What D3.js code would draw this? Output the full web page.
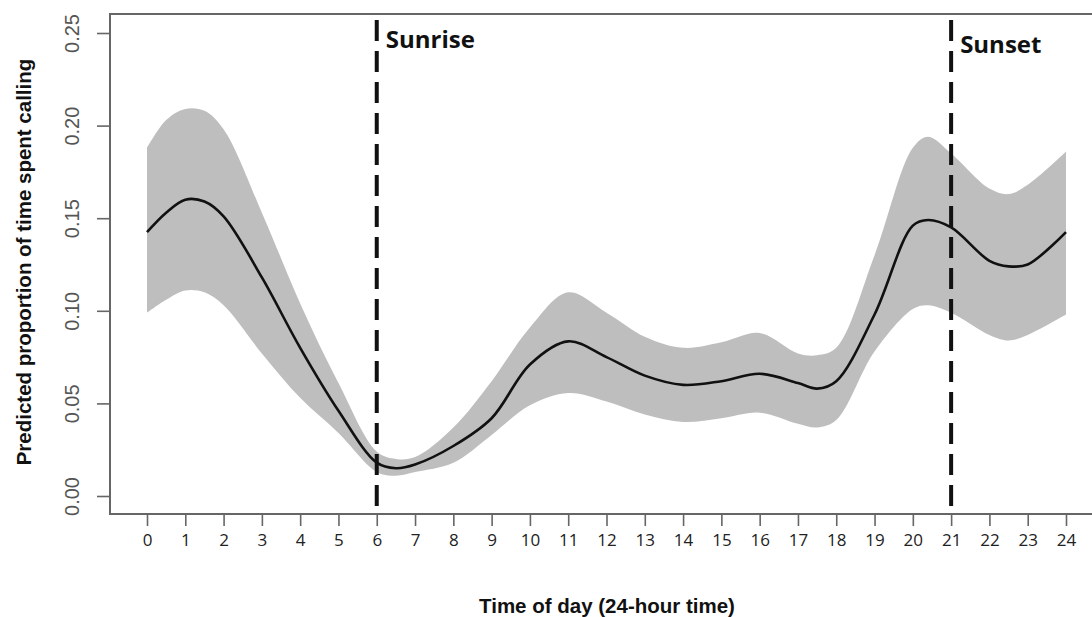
<!DOCTYPE html>
<html>
<head>
<meta charset="utf-8">
<script src="https://cdn.jsdelivr.net/npm/d3@7"></script>
<style>
	body { margin: 0; background: #fff; }
	#CallingChart { width: 1092px; height: 617px; overflow: hidden; }
</style>
</head>
<body>
<div id="CallingChart"></div>
<script>

// hours of the day where the curve was read
var hours = [0, 0.5, 1, 1.5, 2, 3, 4, 5, 6, 6.5, 7, 8, 9, 10, 11, 12, 13, 14, 15, 16, 17, 17.5, 18, 19, 20, 20.4, 21, 22, 22.5, 23, 24];
var fitted = [.1425, .153, .160, .159, .151, .118, .080, .046, .018, .015, .017, .027, .042, .071, .0835, .075, .065, .060, .062, .066, .061, .058, .062, .098, .146, .149, .145, .127, .124, .125, .1425];
var upper = [.188, .203, .209, .208, .198, .153, .104, .061, .024, .020, .021, .037, .062, .091, .110, .099, .086, .080, .083, .088, .077, .076, .080, .130, .188, .194, .185, .166, .163, .168, .186];
var lower = [.099, .106, .111, .110, .103, .077, .053, .034, .013, .011, .013, .018, .033, .049, .0556, .051, .044, .040, .042, .045, .039, .037, .041, .078, .101, .103, .099, .087, .084, .087, .098];

var xTicks = d3.range(0, 25);
var yTicks = [0, 0.05, 0.10, 0.15, 0.20, 0.25];
var markers = [{hour: 6, label: "Sunrise"}, {hour: 21, label: "Sunset"}];

var W = 1092, H = 617;
var box = {left: 110, top: 14, right: 1096, bottom: 514};

var svg = d3.select("#CallingChart")
	.append("svg")
	.attr("width", W)
	.attr("height", H);

var x = d3.scaleLinear().domain([0, 24]).range([147, 1066]);
var y = d3.scaleLinear().domain([0, 0.25]).range([496, 33]);

var rows = hours.map(function(h, i){
	return {h: h, fit: fitted[i], up: upper[i], lo: lower[i]};
});

// confidence band
var band = d3.area()
	.x(function(d){ return x(d.h); })
	.y0(function(d){ return y(d.lo); })
	.y1(function(d){ return y(d.up); })
	.curve(d3.curveCatmullRom);

svg.append("path")
	.datum(rows)
	.attr("d", band)
	.attr("fill", "#bebebe");

var line = d3.line()
	.x(function(d){ return x(d.h); })
	.y(function(d){ return y(d.fit); })
	.curve(d3.curveCatmullRom);

svg.append("path")
	.datum(rows)
	.attr("d", line)
	.attr("fill", "none")
	.attr("stroke", "#111")
	.attr("stroke-width", 2.6);

// frame
svg.append("rect")
	.attr("x", box.left)
	.attr("y", box.top)
	.attr("width", box.right - box.left)
	.attr("height", box.bottom - box.top)
	.attr("fill", "none")
	.attr("stroke", "#666")
	.attr("stroke-width", 2);

// y axis
var yAxis = d3.axisLeft(y)
	.tickValues(yTicks)
	.tickSize(13)
	.tickFormat(d3.format(".2f"));

var gy = svg.append("g")
	.attr("transform", "translate(" + box.left + ",0)")
	.call(yAxis);
gy.select(".domain").remove();
gy.selectAll(".tick line").attr("stroke", "#666").attr("stroke-width", 1.6);
gy.selectAll(".tick text")
	.attr("transform", "rotate(-90)")
	.attr("x", 0)
	.attr("y", -31)
	.attr("dy", 0)
	.attr("text-anchor", "middle")
	.style("font-family", "'Liberation Sans', Arial, sans-serif")
	.style("font-size", "20px")
	.attr("fill", "#555");

// x axis
var xAxis = d3.axisBottom(x)
	.tickValues(xTicks)
	.tickSize(12)
	.tickFormat(d3.format("d"));

var gx = svg.append("g")
	.attr("transform", "translate(0," + box.bottom + ")")
	.call(xAxis);
gx.select(".domain").remove();
gx.selectAll(".tick line").attr("stroke", "#666").attr("stroke-width", 1.6);
gx.selectAll(".tick text")
	.attr("y", 32)
	.attr("dy", 0)
	.style("font-family", "'Open Sans', sans-serif")
	.style("font-size", "17px")
	.attr("fill", "#222");

// sunrise / sunset
markers.forEach(function(m, i){
	svg.append("line")
		.attr("x1", x(m.hour))
		.attr("x2", x(m.hour))
		.attr("y1", 20)
		.attr("y2", box.bottom)
		.attr("stroke", "#111")
		.attr("stroke-width", 4)
		.attr("stroke-dasharray", "21,10");

	svg.append("text")
		.attr("x", x(m.hour) + 9)
		.attr("y", i == 0 ? 48 : 53)
		.text(m.label)
		.style("font-family", "'Open Sans', sans-serif")
		.style("font-weight", "bold")
		.style("font-size", "24px")
		.attr("fill", "#111");
});

// axis titles
svg.append("text")
	.attr("x", 607)
	.attr("y", 613)
	.attr("text-anchor", "middle")
	.text("Time of day (24-hour time)")
	.style("font-family", "'Liberation Sans', Arial, sans-serif")
	.style("font-weight", "bold")
	.style("font-size", "20.5px")
	.attr("fill", "#111");

svg.append("text")
	.attr("transform", "translate(31,262) rotate(-90)")
	.attr("text-anchor", "middle")
	.text("Predicted proportion of time spent calling")
	.style("font-family", "'Liberation Sans', Arial, sans-serif")
	.style("font-weight", "bold")
	.style("font-size", "20.5px")
	.attr("fill", "#111");

</script>
</body>
</html>
